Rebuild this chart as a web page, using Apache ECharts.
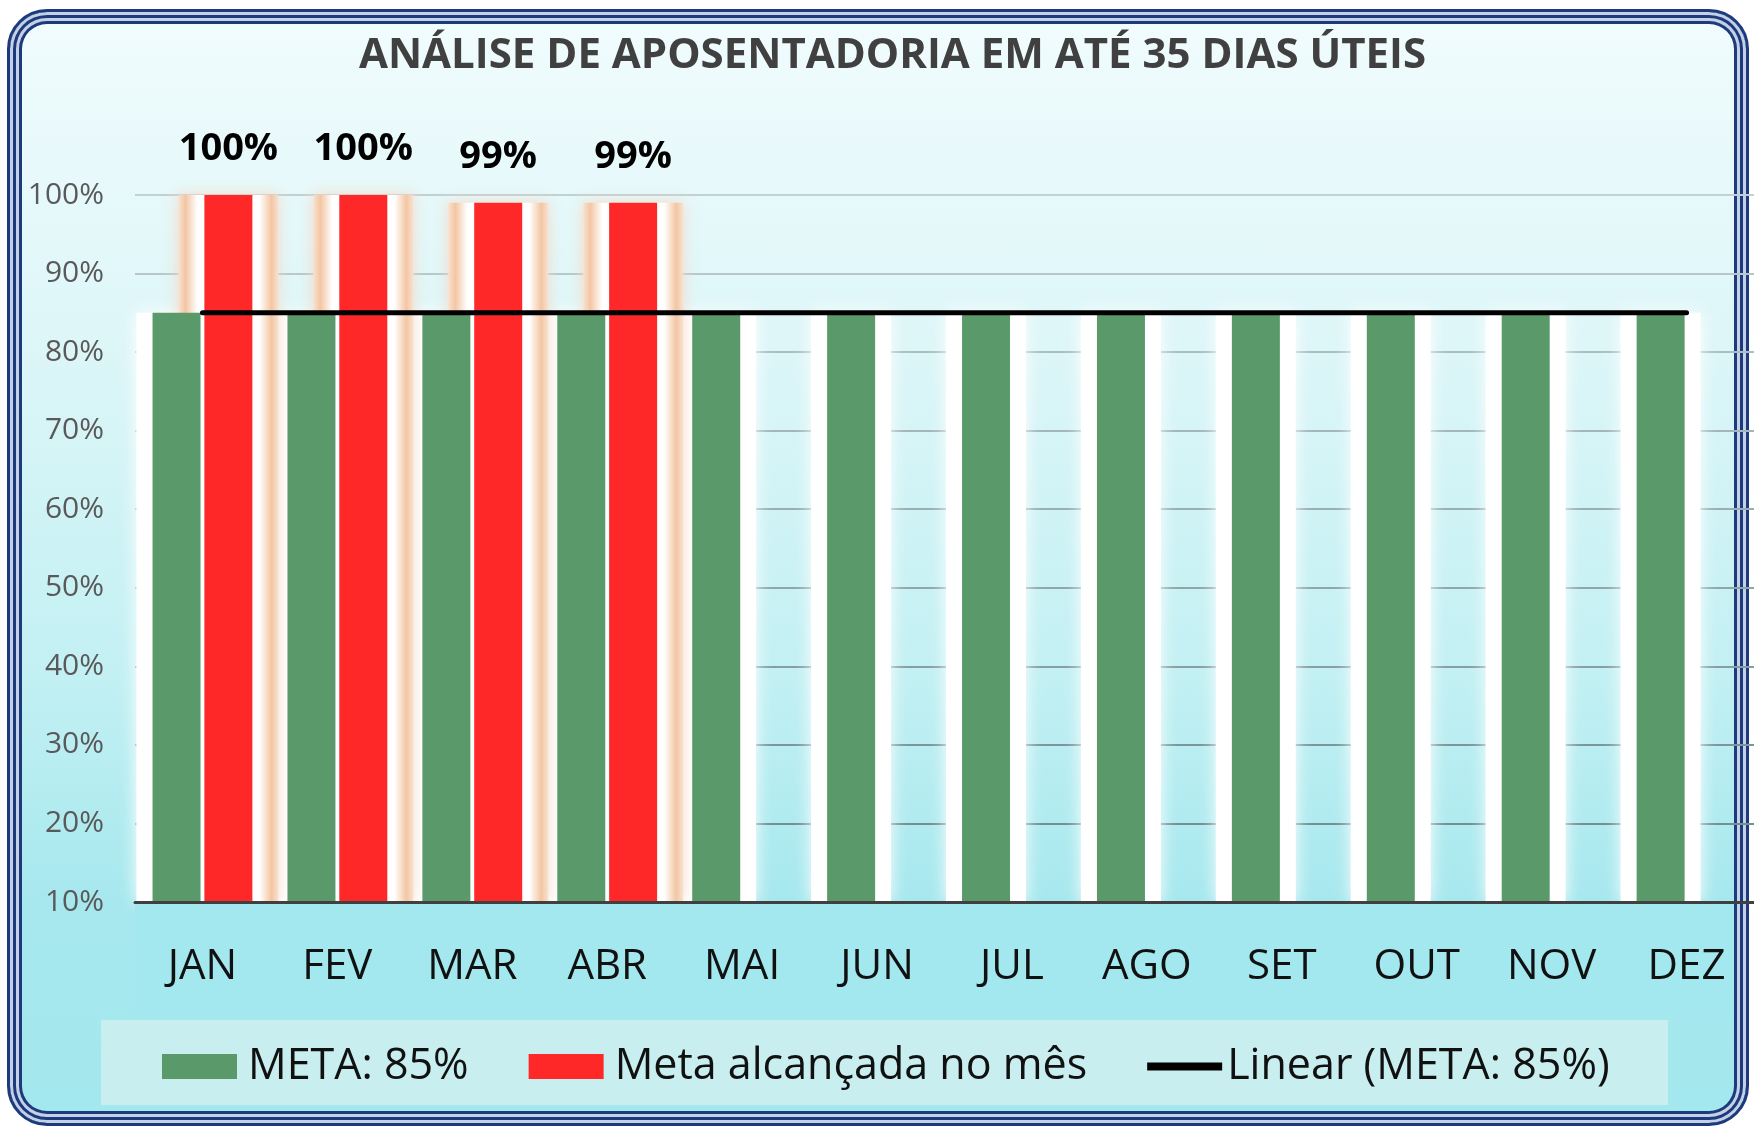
<!DOCTYPE html>
<html>
<head>
<meta charset="utf-8">
<script src="https://cdn.jsdelivr.net/npm/echarts@6/dist/echarts.min.js"></script>
<style>
  html, body { margin: 0; padding: 0; background: #ffffff; }
  #moldura {
    position: absolute; left: 7px; top: 9px; width: 1742px; height: 1117px;
    box-sizing: border-box; border-radius: 40px;
    border: 3px solid #1d3b7c;
    background: linear-gradient(to bottom, #f1fcfd 0%, #ddf6f8 30%, #c2f0f3 60%, #a6e8ee 80%, #a3e8ee 100%);
    box-shadow: inset 0 0 0 3px #c3d0e6, inset 0 0 0 6px #1d3b7c, inset 0 0 0 9px #c3d0e6, inset 0 0 0 12px #1d3b7c;
  }
  #caixaLegenda {
    position: absolute; left: 101px; top: 1020px; width: 1567px; height: 85px;
    background: #c8eef0;
  }
  #chart { position: absolute; left: 0; top: 0; width: 1754px; height: 1130px; }
</style>
</head>
<body>
<div id="moldura"></div>
<div id="caixaLegenda"></div>
<div id="chart"></div>
<script>
// dados do gráfico
const titulo = "ANÁLISE DE APOSENTADORIA EM ATÉ 35 DIAS ÚTEIS";
const meses = ["JAN", "FEV", "MAR", "ABR", "MAI", "JUN", "JUL", "AGO", "SET", "OUT", "NOV", "DEZ"];
const meta = [85, 85, 85, 85, 85, 85, 85, 85, 85, 85, 85, 85];
const alcancada = [100, 100, 99, 99, null, null, null, null, null, null, null, null];
const linear = [85, 85, 85, 85, 85, 85, 85, 85, 85, 85, 85, 85];
const nomes = ["META: 85%", "Meta alcançada no mês", "Linear (META: 85%)"];
const eixoY = { min: 10, max: 100, passo: 10 };

const FONTE = "'Open Sans', sans-serif";

// barras reais: 48px com 8% de espaço -> centros a +-26px
// barras de brilho em eixos ocultos, mais largas, com gap negativo para manter os mesmos centros
const gapPara = w => ((52 - w) / w * 100).toFixed(2) + "%";
const LARG_VERDE = 80;
const LARG_VERM = 100;

const brilhoPessego = {
    type: "linear", x: 0, y: 0, x2: 1, y2: 0,
    colorStops: [
        { offset: 0, color: "#f8e2d2" },
        { offset: 0.07, color: "#f3c6a3" },
        { offset: 0.19, color: "#ffffff" },
        { offset: 0.81, color: "#ffffff" },
        { offset: 0.93, color: "#f3c6a3" },
        { offset: 1, color: "#f8e2d2" }
    ]
};

// linhas de grade mais claras em cima e mais escuras embaixo
const corGrade = {
    type: "linear", x: 0, y: 195, x2: 0, y2: 902, global: true,
    colorStops: [
        { offset: 0, color: "#c2d1d4" },
        { offset: 0.25, color: "#a8bcc0" },
        { offset: 1, color: "#67878c" }
    ]
};

const chart = echarts.init(document.getElementById("chart"), null, { renderer: "canvas" });
const option = {
    animation: false,
    backgroundColor: "transparent",
    textStyle: { fontFamily: FONTE },
    title: {
        text: titulo, left: 354, top: 30,
        textStyle: { fontFamily: FONTE, fontSize: 42, fontWeight: "bold", color: "#404040" }
    },
    grid: { left: 135, right: 0, top: 195, bottom: 228 },
    legend: {
        data: [
            { name: nomes[0] },
            { name: nomes[1] },
            { name: nomes[2], icon: "path://M0,0 L75,0 L75,8 L0,8 Z", textStyle: { padding: [0, 0, 0, 0] } }
        ],
        left: 157, top: 1040,
        icon: "rect", itemWidth: 75, itemHeight: 25, itemGap: 60,
        textStyle: { fontFamily: FONTE, fontSize: 43, color: "#111111", padding: [0, 0, 0, 6] }
    },
    graphic: [
        // esconde o brilho abaixo do eixo
        { type: "rect", z: 5, silent: true, shape: { x: 135, y: 904, width: 1598, height: 112 }, style: { fill: "#a3e8ee" } }
    ],
    xAxis: [
        {
            type: "category", data: meses, z: 10,
            axisLine: { lineStyle: { color: "#404040", width: 3 } },
            axisTick: { show: false },
            axisLabel: { fontFamily: FONTE, fontSize: 42, color: "#111111", margin: 44 }
        },
        { type: "category", data: meses, show: false },
        { type: "category", data: meses, show: false }
    ],
    yAxis: {
        type: "value", min: eixoY.min, max: eixoY.max, interval: eixoY.passo,
        axisLine: { show: false }, axisTick: { show: false },
        axisLabel: { formatter: "{value}%", fontFamily: FONTE, fontSize: 30, color: "#595959", margin: 31 },
        splitLine: { lineStyle: { color: corGrade, width: 2 } }
    },
    series: [
        // brilho (efeito glow do Excel)
        {
            name: "brilhoMeta", type: "bar", xAxisIndex: 1, data: meta, barWidth: LARG_VERDE, barGap: gapPara(LARG_VERDE), z: 1, silent: true,
            itemStyle: { color: "#ffffff", shadowColor: "#ffffff", shadowBlur: 16 }
        },
        { name: "vazio1", type: "bar", xAxisIndex: 1, data: [], barWidth: LARG_VERDE, barGap: gapPara(LARG_VERDE), silent: true },
        { name: "vazio2", type: "bar", xAxisIndex: 2, data: [], barWidth: LARG_VERM, barGap: gapPara(LARG_VERM), silent: true },
        {
            name: "brilhoAlc", type: "bar", xAxisIndex: 2, data: alcancada, barWidth: LARG_VERM, barGap: gapPara(LARG_VERM), z: 1, silent: true,
            itemStyle: { color: brilhoPessego, shadowColor: "rgba(245,215,195,0.9)", shadowBlur: 14 }
        },
        {
            name: nomes[0], type: "bar", data: meta, barWidth: 48, barGap: "8%", z: 3,
            itemStyle: { color: "#5a9a6a" }
        },
        {
            name: nomes[1], type: "bar", data: alcancada, barWidth: 48, barGap: "8%", z: 3,
            itemStyle: { color: "#fe2828" },
            label: {
                show: true, position: "top", distance: 27, formatter: "{c}%",
                fontFamily: FONTE, fontSize: 38, fontWeight: "bold", color: "#000000"
            }
        },
        {
            name: nomes[2], type: "line", data: linear, symbol: "none", z: 4,
            lineStyle: { color: "#000000", width: 5, cap: "round" },
            itemStyle: { color: "#000000" }
        }
    ]
};
chart.setOption(option);
window.addEventListener("resize", () => chart.resize());
</script>
</body>
</html>
